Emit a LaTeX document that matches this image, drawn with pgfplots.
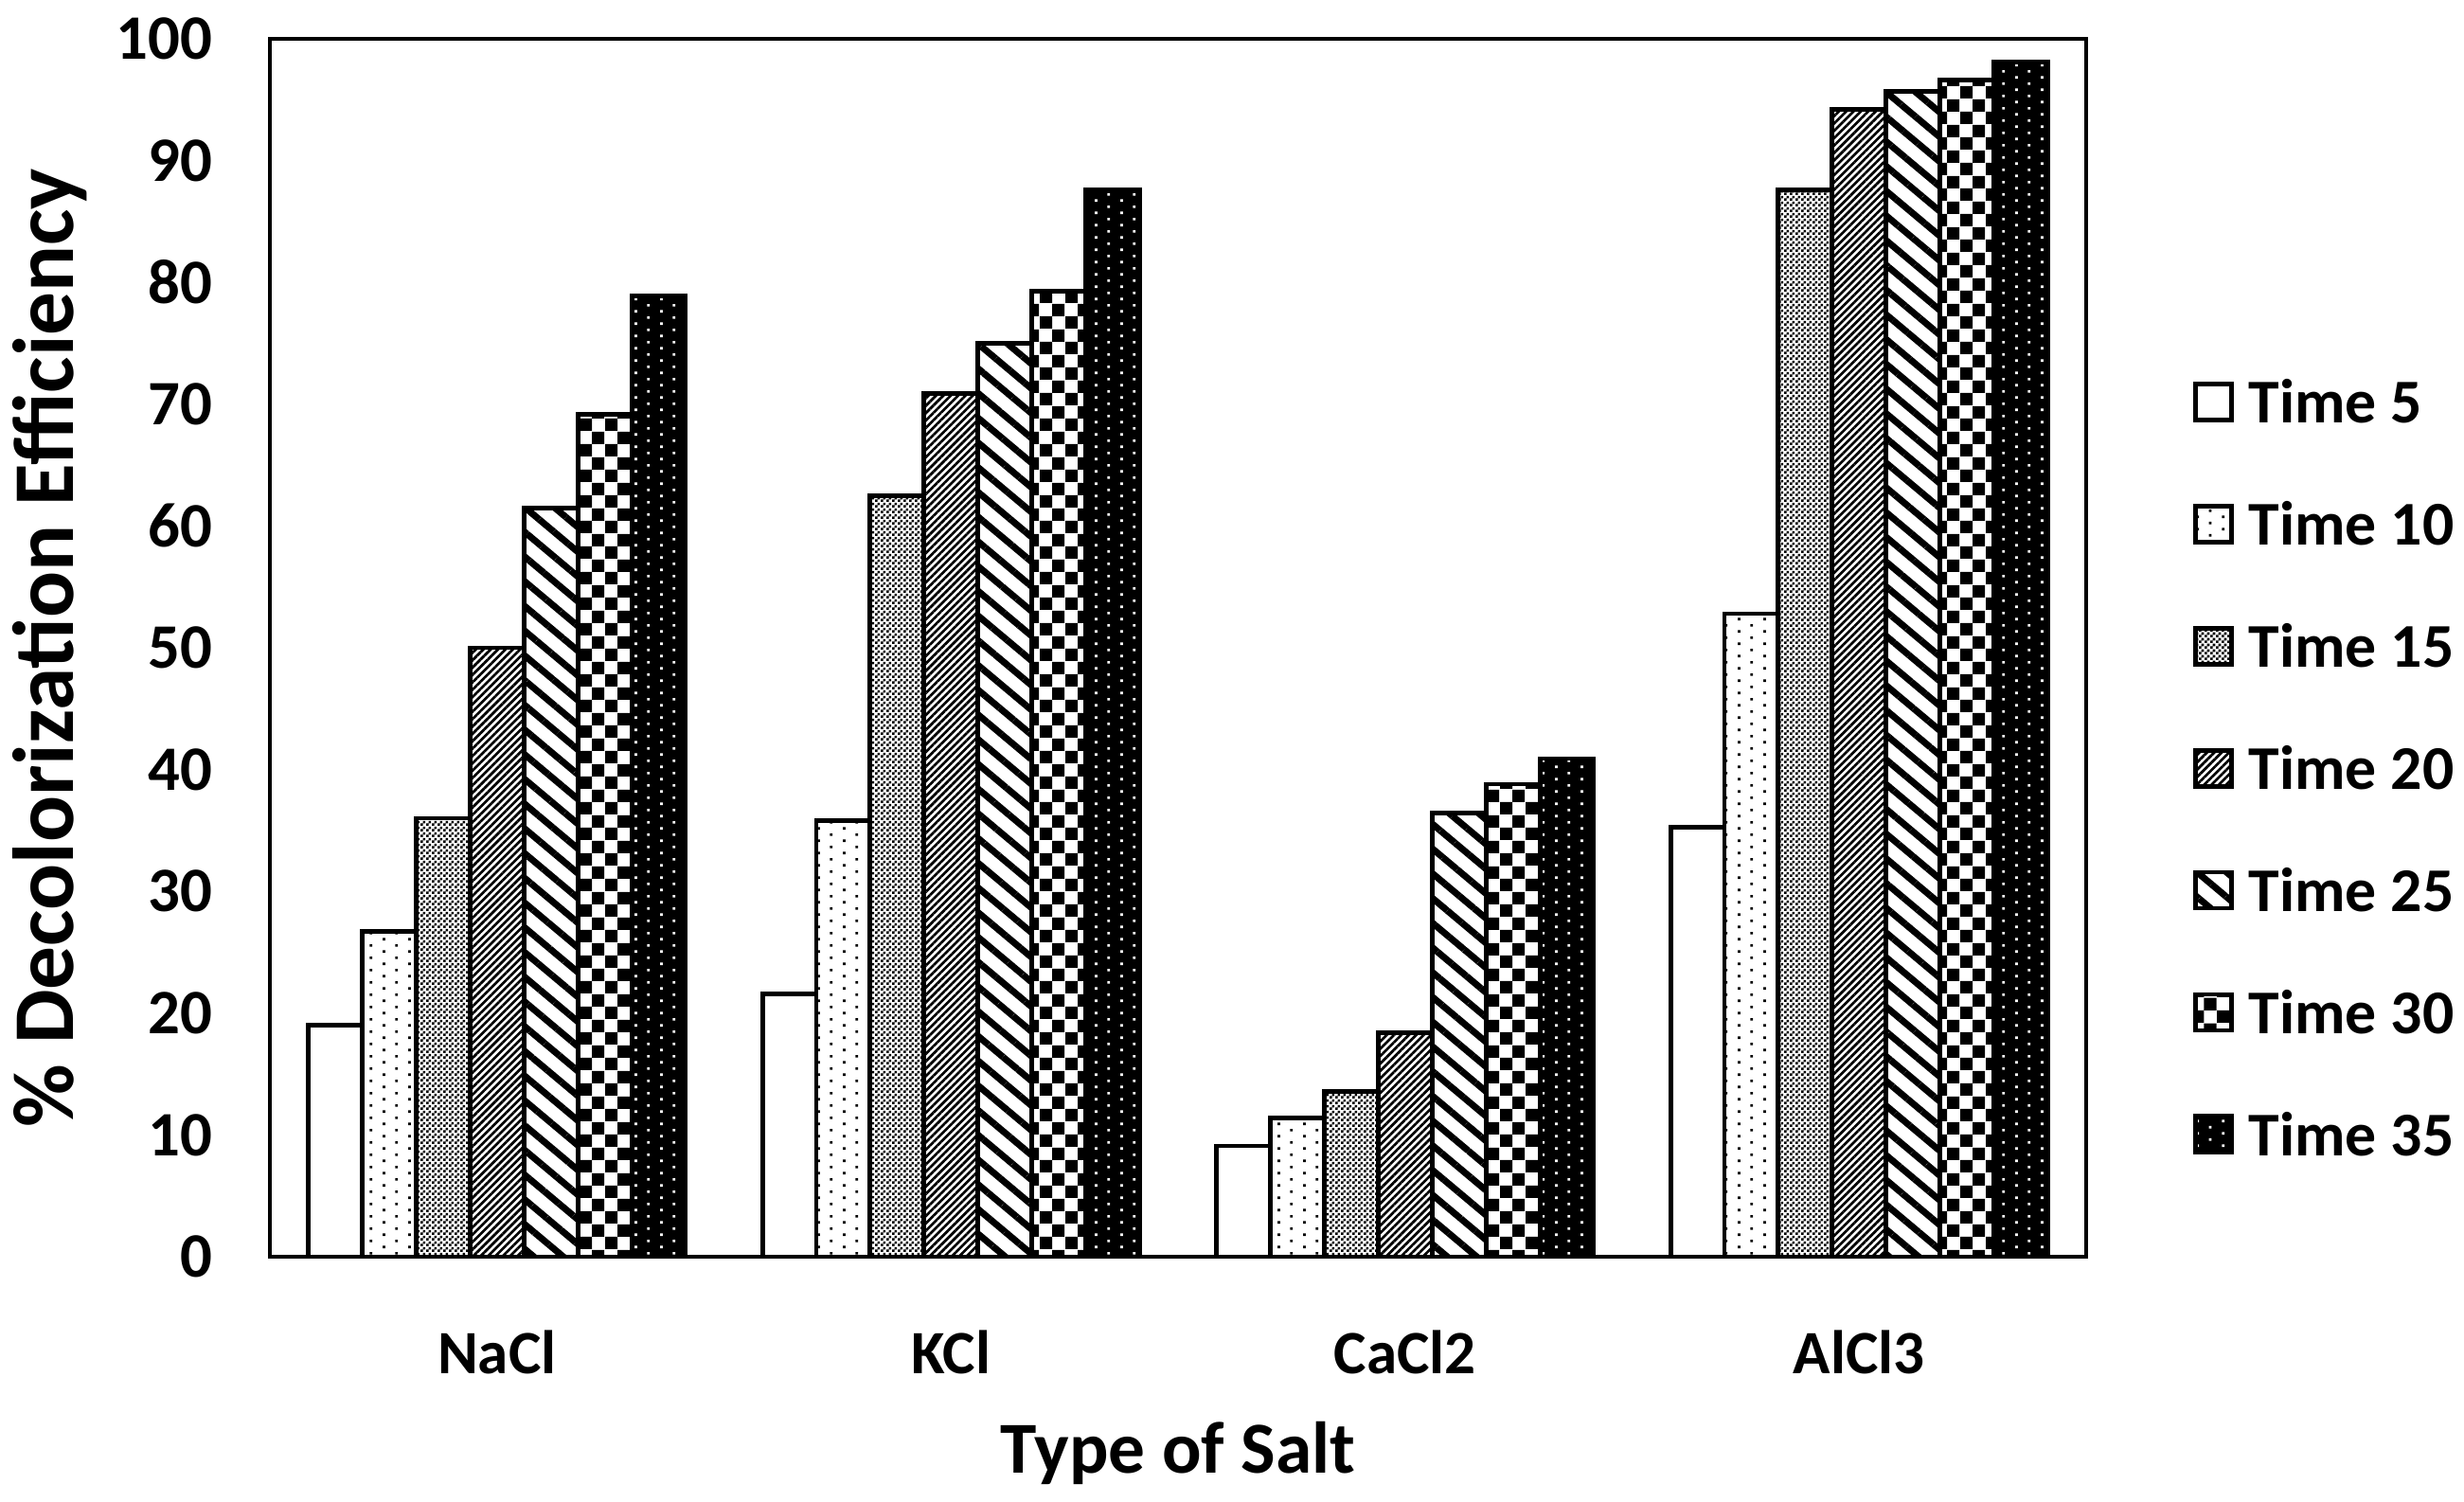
\documentclass[border=0pt]{standalone}
\usepackage{fontspec}
\setmainfont{Carlito}
\usepackage{pgfplots}
\usepackage{pgfplotstable}
\pgfplotsset{compat=1.18}
\usetikzlibrary{patterns,patterns.meta}

% fill patterns of the seven series
\pgfdeclarepatternformonly{finecheck}{\pgfpointorigin}{\pgfpoint{0.6mm}{0.6mm}}{\pgfpoint{0.6mm}{0.6mm}}{%
  \pgfpathrectangle{\pgfpointorigin}{\pgfpoint{0.3mm}{0.3mm}}%
  \pgfpathrectangle{\pgfpoint{0.3mm}{0.3mm}}{\pgfpoint{0.3mm}{0.3mm}}%
  \pgfusepath{fill}}
\pgfdeclarepatternformonly{bigcheck}{\pgfpointorigin}{\pgfpoint{2.66mm}{2.66mm}}{\pgfpoint{2.66mm}{2.66mm}}{%
  \pgfpathrectangle{\pgfpointorigin}{\pgfpoint{1.33mm}{1.33mm}}%
  \pgfpathrectangle{\pgfpoint{1.33mm}{1.33mm}}{\pgfpoint{1.33mm}{1.33mm}}%
  \pgfusepath{fill}}
\pgfdeclarepatternformonly{stagdots}{\pgfpointorigin}{\pgfpoint{2.66mm}{1.33mm}}{\pgfpoint{2.66mm}{1.33mm}}{%
  \pgfpathrectangle{\pgfpoint{0.53mm}{0.2mm}}{\pgfpoint{0.28mm}{0.28mm}}%
  \pgfpathrectangle{\pgfpoint{1.86mm}{0.87mm}}{\pgfpoint{0.28mm}{0.28mm}}%
  \pgfusepath{fill}}

\pgfplotsset{
  sq legend/.style={legend image code/.code={%
    \draw[##1,line width=1.4pt] (0.025cm,-0.175cm) rectangle (0.405cm,0.205cm);}},
  barline/.style={draw=black,line width=1.4pt},
}

\pgfplotstableread{
x t5 t10 t15 t20 t25 t30 t35
0 19.0 26.7 36.0 50.0 61.5 69.2 78.9
1 21.6 35.8 62.5 70.9 75.0 79.3 87.6
2 9.1 11.4 13.6 18.4 36.4 38.8 40.9
3 35.3 52.8 87.6 94.2 95.7 96.6 98.1
}\salts

\begin{document}
\begin{tikzpicture}
\useasboundingbox (-2.85cm,-2.58cm) rectangle (23.17cm,13.27cm);
\begin{axis}[
  at={(0,0)}, anchor=south west,
  scale only axis, width=19.18cm, height=12.86cm,
  ybar=0pt, bar width=0.1187,
  xmin=-0.5, xmax=3.5, ymin=0, ymax=100,
  xtick=data, xticklabels={NaCl,KCl,CaCl2,AlCl3},
  ytick={0,10,...,100},
  tick style={draw=none},
  axis line style={line width=1.4pt},
  /pgf/number format/assume math mode=true,
  yticklabel style={font=\fontsize{19}{19}\selectfont\bfseries, anchor=east, inner sep=0pt, xshift=-0.6cm},
  xticklabel style={font=\fontsize{18.5}{18.5}\selectfont\bfseries, anchor=base, inner sep=0pt, yshift=-1.08cm},
  xlabel={Type of Salt},
  ylabel={\% Decolorization Efficiency},
  xlabel style={font=\fontsize{22}{22}\selectfont\bfseries, at={([yshift=-2.28cm]axis description cs:0.5,0)}, anchor=base, inner sep=0pt},
  ylabel style={font=\fontsize{26}{26}\selectfont\bfseries, at={([xshift=-2.07cm]axis description cs:0,0.5)}, anchor=base, inner sep=0pt},
  legend style={draw=none, fill=none, at={([xshift=1.12cm,yshift=-3.61cm]axis description cs:1,1)}, anchor=north west,
    inner sep=0pt, font=\fontsize{18.7}{18.7}\selectfont\bfseries, row sep=0.85cm,
    nodes={inner sep=0pt, text height=0.42cm, text depth=0pt},
    /tikz/every odd column/.append style={column sep=0.16cm}},
  legend cell align=left,
]
\addplot[barline, fill=white, sq legend] table[x=x,y=t5]{\salts};
\addplot[barline, pattern=stagdots, pattern color=black, sq legend] table[x=x,y=t10]{\salts};
\addplot[barline, pattern=finecheck, pattern color=black, sq legend] table[x=x,y=t15]{\salts};
\addplot[barline, pattern={Lines[angle=45,distance=0.55mm,line width=0.27mm]}, pattern color=black, sq legend] table[x=x,y=t20]{\salts};
\addplot[barline, pattern={Lines[angle=-40,distance=2.0mm,line width=0.7mm]}, pattern color=black, sq legend] table[x=x,y=t25]{\salts};
\addplot[barline, pattern=bigcheck, pattern color=black, sq legend] table[x=x,y=t30]{\salts};
\addplot[barline, fill=black, postaction={pattern=stagdots, pattern color=white}, sq legend] table[x=x,y=t35]{\salts};
\legend{Time 5,Time 10,Time 15,Time 20,Time 25,Time 30,Time 35}
\end{axis}
\end{tikzpicture}
\end{document}
